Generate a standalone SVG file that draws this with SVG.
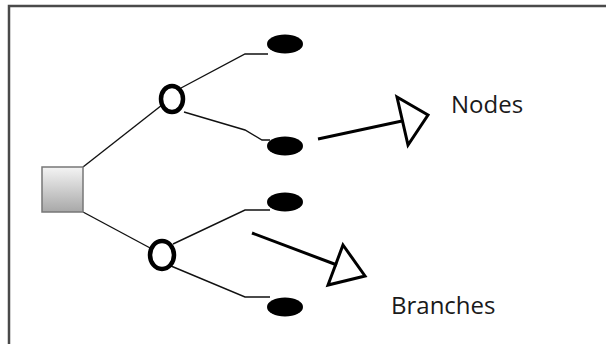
<svg xmlns="http://www.w3.org/2000/svg" width="606" height="344" viewBox="0 0 606 344">
<defs>
<linearGradient id="sq" x1="0" y1="0" x2="0" y2="1">
<stop offset="0" stop-color="#f4f4f4"/>
<stop offset="1" stop-color="#a8a8a8"/>
</linearGradient>
<style>
.br{fill:none;stroke:#111;stroke-width:1.4}
.ar{fill:none;stroke:#000;stroke-width:3;stroke-linejoin:miter}
.leaf{fill:#000}
.dec{fill:#fff;stroke:#000;stroke-width:4.5}
.lbl{font-family:"Open Sans","Liberation Sans",sans-serif;font-size:24px;fill:#1a1a1a}
</style>
</defs>
<rect width="606" height="344" fill="#fff"/>
<path d="M9,344 V6 H606" fill="none" stroke="#4a4a4a" stroke-width="2.5"/>
<g id="connectors">
<path class="br" d="M83,167 L162,105"/>
<path class="br" d="M83,212 L152,249"/>
<path class="br" d="M181,88 L245,54 H268"/>
<path class="br" d="M184,112 L245,130 L262,140 H270"/>
<path class="br" d="M173,244 L245,210 H270"/>
<path class="br" d="M171,266 L245,297 H270"/>
</g>
<g id="root"><rect x="42" y="167" width="41" height="45" fill="url(#sq)" stroke="#777" stroke-width="1.5"/></g>
<g id="chance1"><ellipse class="dec" cx="172" cy="99" rx="11" ry="13"/></g>
<g id="chance2"><ellipse class="dec" cx="162" cy="255" rx="12" ry="14"/></g>
<g id="leaf1"><ellipse class="leaf" cx="285" cy="44" rx="18" ry="9.5"/></g>
<g id="leaf2"><ellipse class="leaf" cx="285" cy="146" rx="18" ry="9.5"/></g>
<g id="leaf3"><ellipse class="leaf" cx="285" cy="202" rx="18" ry="9.5"/></g>
<g id="leaf4"><ellipse class="leaf" cx="285" cy="307" rx="18" ry="9.5"/></g>
<g id="arrow-nodes">
<path class="ar" d="M318,139 L402,121"/>
<path class="ar" d="M397,97 L428,115 L408,145 Z"/>
</g>
<g id="arrow-branches">
<path class="ar" d="M252,233 L337,265"/>
<path class="ar" d="M343,245 L365,276 L328,285 Z"/>
</g>
<g id="label-nodes"><text class="lbl" x="451" y="113">Nodes</text></g>
<g id="label-branches"><text class="lbl" x="391" y="314">Branches</text></g>
</svg>
